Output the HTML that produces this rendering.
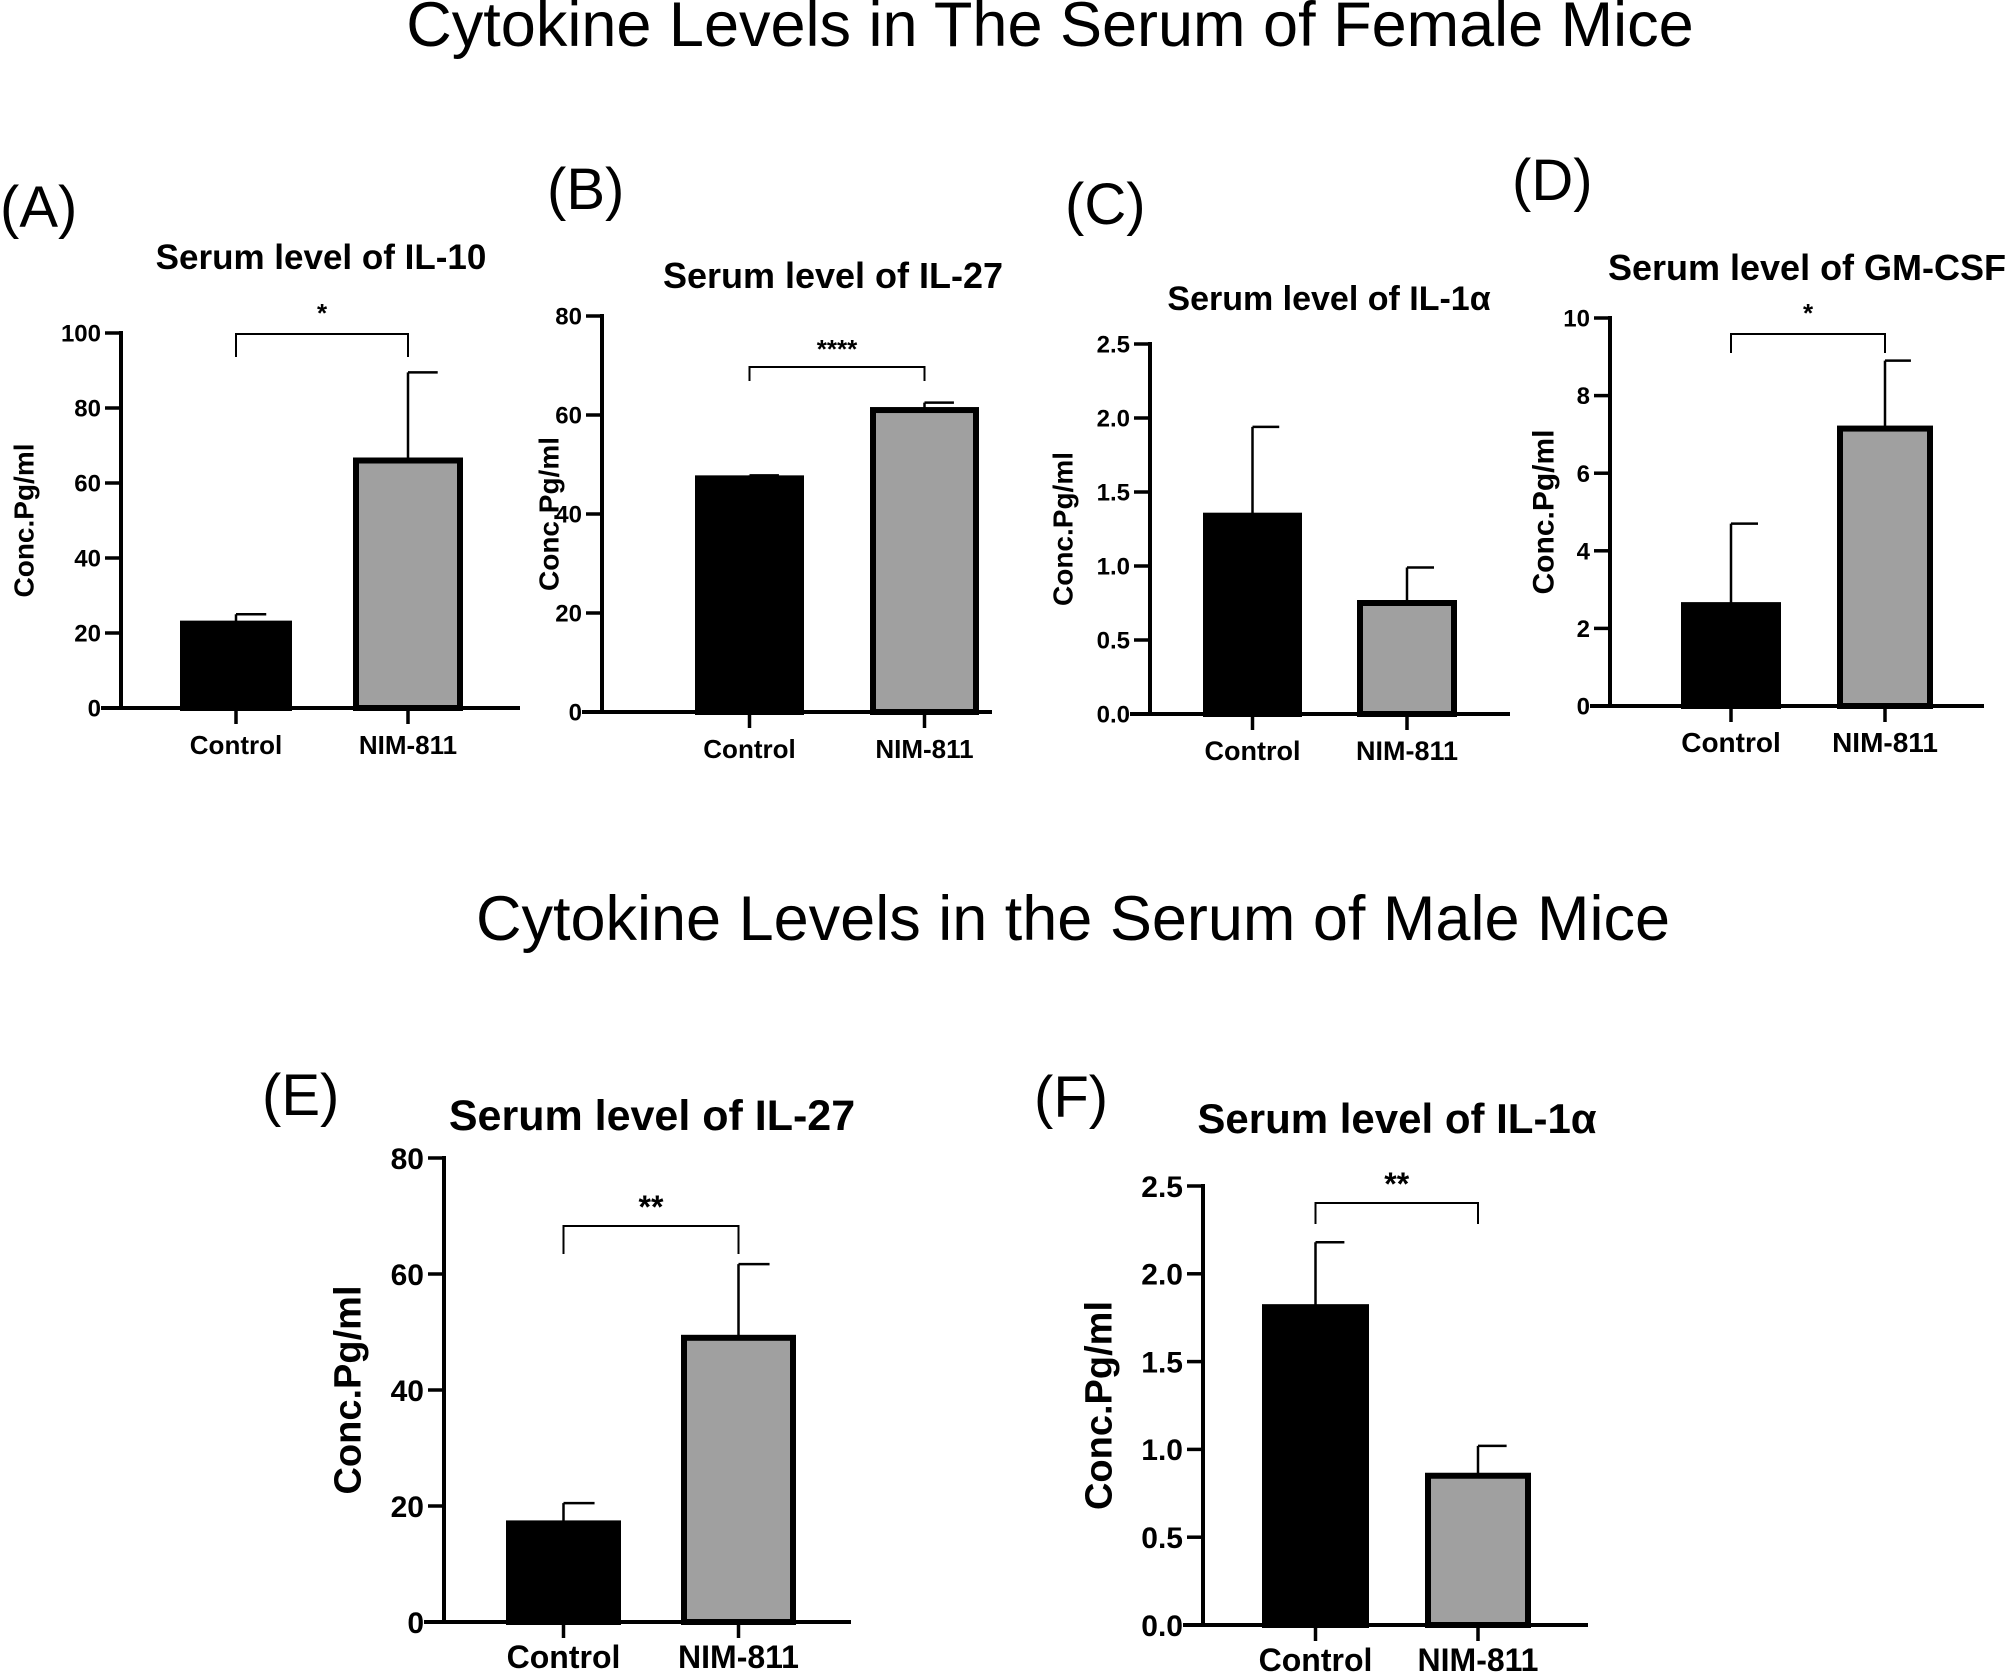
<!DOCTYPE html>
<html><head><meta charset="utf-8"><style>
html,body{margin:0;padding:0;background:#fff}
svg{display:block}
text{font-family:"Liberation Sans",Arial,sans-serif}
</style></head><body>
<svg id="fig" width="2007" height="1680" viewBox="0 0 2007 1680" xmlns="http://www.w3.org/2000/svg">
<text x="1050" y="46" font-size="63" text-anchor="middle">Cytokine Levels in The Serum of Female  Mice</text>
<text x="1073" y="940" font-size="63" text-anchor="middle">Cytokine Levels in the Serum of Male  Mice</text>
</svg>
<script>
// Panel data
const categories = ["Control", "NIM-811"];
const panelLabels = ["(A)", "(B)", "(C)", "(D)", "(E)", "(F)"];
const panelTitles = ["Serum level of IL-10", "Serum level of IL-27", "Serum level of IL-1α", "Serum level of GM-CSF", "Serum level of IL-27", "Serum level of IL-1α"];
const meansA = [22.5, 66]; const errA = [25, 89.5];
const meansB = [47.2, 61]; const errB = [47.8, 62.5];
const meansC = [1.34, 0.75]; const errC = [1.94, 0.99];
const meansD = [2.6, 7.15]; const errD = [4.7, 8.9];
const meansE = [17, 49]; const errE = [20.5, 61.7];
const meansF = [1.81, 0.85]; const errF = [2.18, 1.02];
const ticksA = [0, 20, 40, 60, 80, 100];
const ticksB = [0, 20, 40, 60, 80];
const ticksC = ["0.0", "0.5", "1.0", "1.5", "2.0", "2.5"];
const ticksD = [0, 2, 4, 6, 8, 10];
const ticksE = [0, 20, 40, 60, 80];
const ticksF = ["0.0", "0.5", "1.0", "1.5", "2.0", "2.5"];
const sigMarks = ["*", "****", "", "*", "**", "**"];

const layouts = [
 {ax:121,top:333,zero:708,xend:520,bars:[[180,292],[353,463]],brY:334,brD:357,title:[321,269,35],lab:[0,227],ylab:23,fs:24,xfs:26,yfs:28,sigY:322},
 {ax:602,top:316,zero:712,xend:992,bars:[[695,804],[870,979]],brY:367,brD:381,title:[833,288,36],lab:[547,209],ylab:548,fs:24,xfs:26,yfs:28,sigY:358},
 {ax:1150,top:344,zero:714,xend:1510,bars:[[1203,1302],[1357,1457]],brY:0,brD:0,title:[1329,310,34],lab:[1065,224],ylab:1062,fs:24,xfs:27,yfs:28,sigY:0},
 {ax:1610,top:318,zero:706,xend:1984,bars:[[1681,1781],[1837,1933]],brY:334,brD:353,title:[1807,280,36],lab:[1512,200],ylab:1542,fs:24,xfs:28,yfs:30,sigY:322},
 {ax:444,top:1158,zero:1622,xend:851,bars:[[506,621],[681,796]],brY:1226,brD:1254,title:[652,1130,43],lab:[262,1115],ylab:346,fs:30,xfs:32,yfs:38,sigY:1218},
 {ax:1203,top:1186,zero:1625,xend:1588,bars:[[1262,1369],[1425,1531]],brY:1203,brD:1224,title:[1397,1133,42],lab:[1034,1117],ylab:1097,fs:30,xfs:32,yfs:38,sigY:1195}
];
const allMeans=[meansA,meansB,meansC,meansD,meansE,meansF];
const allErr=[errA,errB,errC,errD,errE,errF];
const allTicks=[ticksA,ticksB,ticksC,ticksD,ticksE,ticksF];
const NS="http://www.w3.org/2000/svg";
const svg=document.getElementById('fig');
function mk(tag,attrs,parent){const e=document.createElementNS(NS,tag);for(const k in attrs)e.setAttribute(k,attrs[k]);(parent||svg).appendChild(e);return e;}
layouts.forEach((L,i)=>{
  const g=mk('g',{});
  
  
  const ticks=allTicks[i].map(Number);
  const ymax=ticks[ticks.length-1];
  const y=v=>L.zero-(v/ymax)*(L.zero-L.top);
  const lab=mk('text',{x:L.lab[0],y:L.lab[1],'font-size':58},g);lab.textContent=panelLabels[i];
  
  
  const t=mk('text',{x:L.title[0],y:L.title[1],'font-size':L.title[2],'font-weight':'bold','text-anchor':'middle'},g);t.textContent=panelTitles[i];
  
  
  const yl=mk('text',{x:0,y:0,'font-size':L.yfs,'font-weight':'bold','text-anchor':'middle',transform:`translate(${L.ylab+L.yfs*0.38},${(L.top+L.zero)/2}) rotate(-90)`},g);yl.textContent='Conc.Pg/ml';
  
  
  allMeans[i].forEach((m,j)=>{
    const [x0,x1]=L.bars[j];const cx=(x0+x1)/2;const capEnd=cx+(x1-x0)*0.27;
    const eb=mk('g',{},g);
    
    
    mk('line',{x1:cx,x2:cx,y1:y(m),y2:y(allErr[i][j]),stroke:'#000','stroke-width':2.5},eb);
    mk('line',{x1:cx,x2:capEnd,y1:y(allErr[i][j]),y2:y(allErr[i][j]),stroke:'#000','stroke-width':2.5},eb);
    const r=mk('rect',{x:x0+3,y:y(m),width:x1-x0-6,height:L.zero-y(m),fill:j==0?'#000':'#a0a0a0',stroke:'#000','stroke-width':6},g);
    
    
    mk('line',{x1:cx,x2:cx,y1:L.zero,y2:L.zero+16,stroke:'#000','stroke-width':3.5},g);
    const xt=mk('text',{x:cx,y:L.zero+46,'font-size':L.xfs,'font-weight':'bold','text-anchor':'middle'},g);xt.textContent=categories[j];
    
    
  });
  const ax=mk('line',{x1:L.ax,x2:L.ax,y1:L.top-2,y2:L.zero+2,stroke:'#000','stroke-width':4},g);
  
  
  const xa=mk('line',{x1:L.ax-20,x2:L.xend,y1:L.zero,y2:L.zero,stroke:'#000','stroke-width':4},g);
  
  
  allTicks[i].forEach(tv=>{
    const yy=y(Number(tv));
    mk('line',{x1:L.ax-16,x2:L.ax,y1:yy,y2:yy,stroke:'#000','stroke-width':3.5},g);
    const tl=mk('text',{x:L.ax-20,y:yy+L.fs*0.36,'font-size':L.fs,'font-weight':'bold','text-anchor':'end'},g);tl.textContent=tv;
    
    
  });
  if(sigMarks[i]){
    const c0=(L.bars[0][0]+L.bars[0][1])/2,c1=(L.bars[1][0]+L.bars[1][1])/2;
    const br=mk('path',{d:`M${c0},${L.brD} V${L.brY} H${c1} V${L.brD}`,fill:'none',stroke:'#000','stroke-width':2},g);
    
    
    const st=mk('text',{x:(c0+c1)/2,y:L.sigY,'font-size':L.fs+2,'font-weight':'bold','text-anchor':'middle'},g);st.textContent=sigMarks[i];
    
    
  }
});
</script>
</body></html>
